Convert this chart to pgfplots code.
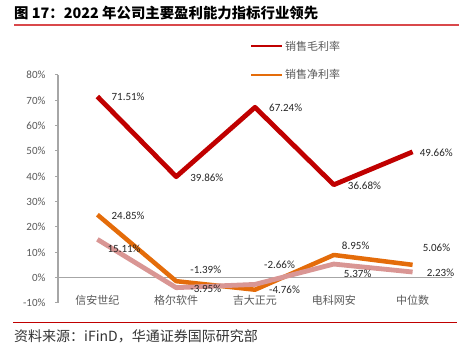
\documentclass[border=0pt]{standalone}
\usepackage{pgfplots}
\pgfplotsset{compat=1.18}
\usepackage{fontspec}
\setmainfont{Carlito}
\newfontfamily\cjk{Noto Sans CJK SC}
\definecolor{gm}{HTML}{C00000}
\definecolor{nm}{HTML}{E46C0A}
\definecolor{pk}{HTML}{D99694}
\definecolor{ax}{HTML}{A6A6A6}
\definecolor{tl}{HTML}{595959}
\definecolor{tr}{HTML}{D9484B}
\begin{document}
\begin{tikzpicture}[x=1pt,y=1pt]
\useasboundingbox (0,0) rectangle (464,352);
\node[anchor=west,inner sep=0,font=\cjk\bfseries\fontsize{14.4}{16}\selectfont] at (14,339) {图 17：2022 年公司主要盈利能力指标行业领先};
\draw[color=tr,line width=1.5pt] (14,327) -- (459,327);
\draw[color=gm,line width=1pt] (13,29) -- (457,29);
\node[anchor=west,inner sep=0,text=black!80,font=\cjk\fontsize{14}{16}\selectfont] at (14,16) {资料来源：iFinD，华通证券国际研究部};
\begin{axis}[
  at={(58pt,49pt)}, anchor=south west, scale only axis,
  width=394pt, height=228pt,
  xmin=-0.5, xmax=4.5, ymin=-10, ymax=80,
  axis y line*=left, axis x line=middle,
  axis line style={color=ax,line width=1.1pt,-},
  xtick={0,1,2,3,4},
  xticklabels={信安世纪,格尔软件,吉大正元,电科网安,中位数},
  xticklabel style={font=\cjk\fontsize{11}{13}\selectfont,text=tl,yshift=-11pt},
  major x tick style={draw=none},
  extra x ticks={0.5,1.5,2.5,3.5,4.5},
  extra x tick labels={},
  extra x tick style={major tick length=4pt,tick style={color=ax,line width=1pt},tick align=outside},
  ytick={-10,0,10,20,30,40,50,60,70,80},
  yticklabels={-10\%,0\%,10\%,20\%,30\%,40\%,50\%,60\%,70\%,80\%},
  yticklabel style={font=\fontsize{11}{13}\selectfont,text=tl,xshift=-6pt},
  y tick style={color=ax,line width=1pt},
  tick align=outside, major tick length=3pt,
  clip=false,
  legend style={at={(0.487,1.16)},anchor=north west,draw=none,fill=none,
    font=\cjk\fontsize{11}{13}\selectfont,text=tl,row sep=14pt,inner sep=0pt,
    /tikz/every even column/.append style={column sep=5pt}},
  legend cell align=left,
  legend image code/.code={\draw[#1,line width=2pt] (0pt,0pt) -- (31pt,0pt);},
]
\addplot[color=gm,line width=4.8pt,line join=round] coordinates {(0,71.51) (1,39.86) (2,67.24) (3,36.68) (4,49.66)};
\addlegendentry{销售毛利率}
\addplot[color=nm,line width=4.5pt,line join=round] coordinates {(0,24.85) (1,-1.39) (2,-4.76) (3,8.95) (4,5.06)};
\addlegendentry{销售净利率}
\addplot[color=pk,line width=4.8pt,line join=round,forget plot] coordinates {(0,15.11) (1,-3.95) (2,-2.66) (3,5.37) (4,2.23)};
\tikzset{lbl/.style={anchor=west,inner sep=0,font=\fontsize{11}{13}\selectfont,text=black!85}}
\node[lbl,xshift=14pt,yshift=0pt] at (axis cs:0,71.51) {71.51\%};
\node[lbl,xshift=14pt,yshift=-1pt] at (axis cs:1,39.86) {39.86\%};
\node[lbl,xshift=14pt,yshift=0pt] at (axis cs:2,67.24) {67.24\%};
\node[lbl,xshift=14pt,yshift=-1pt] at (axis cs:3,36.68) {36.68\%};
\node[lbl,xshift=7pt,yshift=-1pt] at (axis cs:4,49.66) {49.66\%};
\node[lbl,xshift=14pt,yshift=-1pt] at (axis cs:0,24.85) {24.85\%};
\node[lbl,xshift=10pt,yshift=-9pt] at (axis cs:0,15.11) {15.11\%};
\node[lbl,xshift=14pt,yshift=11.5pt] at (axis cs:1,-1.39) {-1.39\%};
\node[lbl,xshift=14pt,yshift=-1pt] at (axis cs:1,-3.95) {-3.95\%};
\node[lbl,xshift=9pt,yshift=20pt] at (axis cs:2,-2.66) {-2.66\%};
\node[lbl,xshift=14pt,yshift=0pt] at (axis cs:2,-4.76) {-4.76\%};
\node[lbl,xshift=8pt,yshift=9pt] at (axis cs:3,8.95) {8.95\%};
\node[lbl,xshift=10pt,yshift=-9.5pt] at (axis cs:3,5.37) {5.37\%};
\node[lbl,xshift=10pt,yshift=17pt] at (axis cs:4,5.06) {5.06\%};
\node[lbl,xshift=14pt,yshift=-1pt] at (axis cs:4,2.23) {2.23\%};
\end{axis}
\end{tikzpicture}
\end{document}
